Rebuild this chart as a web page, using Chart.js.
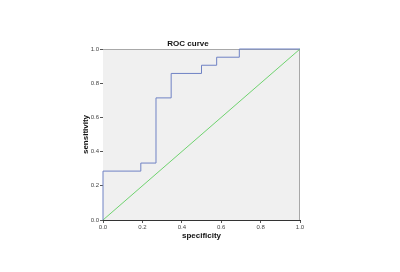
<!DOCTYPE html>
<html>
<head>
<meta charset="utf-8">
<script src="https://cdn.jsdelivr.net/npm/chart.js@4/dist/chart.umd.min.js"></script>
<style>
  html, body { margin: 0; padding: 0; background: #fff; }
  #wrap { width: 400px; height: 272px; }
</style>
</head>
<body>
<div id="wrap"><canvas id="roc"></canvas></div>
<script>
// ROC points (x axis labelled "specificity" as in the original)
const rocX = [0, 0, 0.192, 0.269, 0.346, 0.5, 0.577, 0.692, 1];
const rocY = [0, 0.286, 0.333, 0.714, 0.857, 0.905, 0.952, 1, 1];
// reference line
const refX = [0, 1];
const refY = [0, 1];
const tickVals = [0, 0.2, 0.4, 0.6, 0.8, 1.0];

const frame = {
  id: 'frame',
  beforeDatasetsDraw(chart) {
    const { ctx, chartArea: a } = chart;
    ctx.save();
    ctx.fillStyle = '#f0f0f0';
    ctx.fillRect(a.left, a.top, a.right - a.left, a.bottom - a.top);
    ctx.strokeStyle = '#a8a8a8';
    ctx.lineWidth = 1;
    ctx.beginPath();
    ctx.moveTo(a.left, a.top + 0.5);
    ctx.lineTo(a.right - 0.5, a.top + 0.5);
    ctx.lineTo(a.right - 0.5, a.bottom);
    ctx.stroke();
    ctx.restore();
  }
};

const tickFont = { family: 'Liberation Sans', size: 6 };
const titleFont = { family: 'Liberation Sans', size: 8, weight: 'bold' };

function axis(label, fitFn, titlePad) {
  return {
    type: 'linear',
    min: 0,
    max: 1,
    afterBuildTicks: s => { s.ticks = tickVals.map(v => ({ value: v })); },
    ticks: {
      font: tickFont,
      color: '#444',
      padding: 1,
      maxRotation: 0,
      autoSkip: false,
      callback: v => Number(v).toFixed(1)
    },
    grid: { drawOnChartArea: false, drawTicks: true, tickLength: 3, color: '#555' },
    border: { color: '#333', width: 1 },
    title: { display: true, text: label, font: titleFont, color: '#111', padding: titlePad },
    afterFit: fitFn
  };
}

new Chart(document.getElementById('roc'), {
  type: 'scatter',
  data: {
    datasets: [
      {
        data: rocX.map((x, i) => ({ x: x, y: rocY[i] })),
        showLine: true,
        stepped: 'before',
        borderColor: '#6f82c4',
        borderWidth: 1,
        pointRadius: 0,
        clip: 2
      },
      {
        data: refX.map((x, i) => ({ x: x, y: refY[i] })),
        showLine: true,
        borderColor: '#6fd36f',
        borderWidth: 1,
        pointRadius: 0,
        clip: 2
      }
    ]
  },
  options: {
    responsive: true,
    maintainAspectRatio: false,
    animation: false,
    layout: { padding: { left: 76, right: 100, top: 40, bottom: 31 } },
    plugins: {
      legend: { display: false },
      tooltip: { enabled: false },
      title: {
        display: true,
        text: 'ROC curve',
        font: { family: 'Liberation Sans', size: 8, weight: 'bold', lineHeight: 1 },
        color: '#111',
        padding: { top: 0, bottom: 1 }
      }
    },
    scales: {
      x: axis('specificity', s => { s.height = 21; }, { top: 0, bottom: 0 }),
      y: axis('sensitivity', s => { s.width = 27; }, { top: 5, bottom: 0 })
    }
  },
  plugins: [frame]
});
</script>
</body>
</html>
